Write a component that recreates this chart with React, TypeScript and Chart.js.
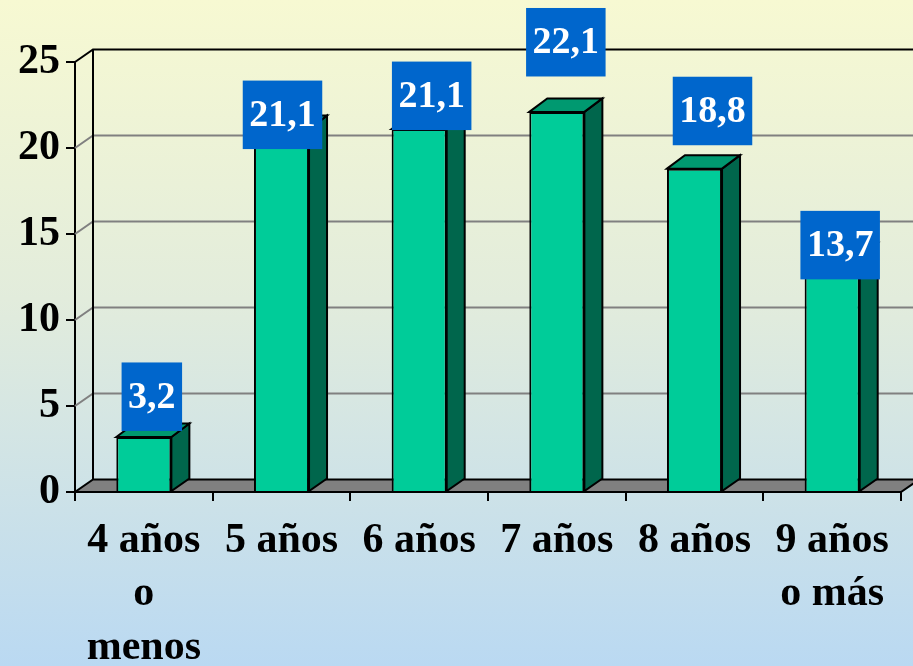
import React, { useEffect, useRef } from "react";
import { Chart, registerables } from "chart.js";

Chart.register(...registerables);

const categories: string[][] = [
  ["4 años", "o", "menos"],
  ["5 años"],
  ["6 años"],
  ["7 años"],
  ["8 años"],
  ["9 años", "o más"],
];
const values: number[] = [3.2, 21.1, 21.1, 22.1, 18.8, 13.7];
const valueLabels: string[] = ["3,2", "21,1", "21,1", "22,1", "18,8", "13,7"];
const yMin = 0;
const yMax = 25;
const yStep = 5;
// label box placement (px): [dx from bar centre, dy of box bottom from bar top]
const labelOffsets: number[][] = [
  [8, -6],
  [1, 20],
  [12.5, 1],
  [9, -35.4],
  [18, -23.4],
  [8, 23],
];

const FONT = '"Liberation Serif", "Times New Roman", serif';
const DX = 18;
const WALL_DY = 12.5;
const BAR_DY = 13.5;

const threeD = {
  id: "threeD",
  beforeDraw(chart: any) {
    const { ctx, width, height } = chart;
    ctx.save();
    const g = ctx.createLinearGradient(0, 0, 0, height);
    g.addColorStop(0, "#F7F9D2");
    g.addColorStop(0.45, "#E2ECDC");
    g.addColorStop(1, "#BAD9F2");
    ctx.fillStyle = g;
    ctx.fillRect(0, 0, width, height);
    ctx.restore();
  },
  beforeDatasetsDraw(chart: any) {
    const { ctx, chartArea, scales, width } = chart;
    const { left, right, top, bottom } = chartArea;
    const y = scales.y;
    ctx.save();
    ctx.lineJoin = "miter";
    // floor
    ctx.beginPath();
    ctx.moveTo(left, bottom);
    ctx.lineTo(right, bottom);
    ctx.lineTo(right + DX, bottom - WALL_DY);
    ctx.lineTo(left + DX, bottom - WALL_DY);
    ctx.closePath();
    ctx.fillStyle = "#808080";
    ctx.fill();
    ctx.lineWidth = 2;
    ctx.strokeStyle = "#000";
    ctx.stroke();
    // gridlines on side + back wall
    for (let v = yMin + yStep; v <= yMax; v += yStep) {
      const py = y.getPixelForValue(v);
      ctx.beginPath();
      ctx.moveTo(left, py);
      ctx.lineTo(left + DX, py - WALL_DY);
      ctx.lineTo(width, py - WALL_DY);
      ctx.strokeStyle = v === yMax ? "#000" : "#808080";
      ctx.lineWidth = 2;
      ctx.stroke();
    }
    // back wall left edge
    ctx.beginPath();
    ctx.moveTo(left + DX, top - WALL_DY);
    ctx.lineTo(left + DX, bottom - WALL_DY);
    ctx.strokeStyle = "#000";
    ctx.lineWidth = 2;
    ctx.stroke();
    ctx.restore();
  },
  afterDatasetsDraw(chart: any) {
    const { ctx } = chart;
    const meta = chart.getDatasetMeta(0);
    ctx.save();
    ctx.lineWidth = 2;
    ctx.strokeStyle = "#000";
    ctx.lineJoin = "miter";
    meta.data.forEach((bar: any) => {
      const { x, y, base, width } = bar.getProps(["x", "y", "base", "width"], true);
      const l = x - width / 2;
      const r = x + width / 2;
      // side
      ctx.beginPath();
      ctx.moveTo(r, y);
      ctx.lineTo(r + DX, y - BAR_DY);
      ctx.lineTo(r + DX, base - WALL_DY);
      ctx.lineTo(r, base);
      ctx.closePath();
      ctx.fillStyle = "#00664C";
      ctx.fill();
      ctx.stroke();
      // top
      ctx.beginPath();
      ctx.moveTo(l, y);
      ctx.lineTo(l + DX, y - BAR_DY);
      ctx.lineTo(r + DX, y - BAR_DY);
      ctx.lineTo(r, y);
      ctx.closePath();
      ctx.fillStyle = "#009970";
      ctx.fill();
      ctx.stroke();
    });
    ctx.restore();
  },
  afterDraw(chart: any) {
    const { ctx } = chart;
    const meta = chart.getDatasetMeta(0);
    ctx.save();
    ctx.font = `bold 38px ${FONT}`;
    ctx.textAlign = "center";
    ctx.textBaseline = "middle";
    meta.data.forEach((bar: any, i: number) => {
      const txt = valueLabels[i];
      const [ox, oy] = labelOffsets[i];
      const cx = bar.x + ox;
      const by = bar.y + oy;
      const tw = ctx.measureText(txt).width;
      const bw = tw + 13;
      const bh = 68.5;
      ctx.fillStyle = "#0066CC";
      ctx.fillRect(cx - bw / 2, by - bh, bw, bh);
      ctx.fillStyle = "#FFFFFF";
      ctx.fillText(txt, cx, by - bh / 2 + 1);
    });
    ctx.restore();
  },
};

export default function App() {
  const ref = useRef<HTMLCanvasElement | null>(null);
  useEffect(() => {
    if (!ref.current) return;
    const chart = new Chart(ref.current, {
      type: "bar",
      data: {
        labels: categories,
        datasets: [
          {
            data: values,
            backgroundColor: "#00CC99",
            borderColor: "#000000",
            borderWidth: 2,
            barPercentage: 0.4,
            categoryPercentage: 1,
          },
        ],
      },
      options: {
        animation: false,
        responsive: false,
        devicePixelRatio: 1,
        layout: { padding: { top: 62, right: 12, left: 0, bottom: 0 } },
        plugins: {
          legend: { display: false },
          tooltip: { enabled: false },
        },
        scales: {
          x: {
            offset: true,
            grid: {
              offset: true,
              drawOnChartArea: false,
              drawTicks: true,
              tickLength: 9,
              color: "#000",
              lineWidth: 2,
            },
            border: { display: true, color: "#000", width: 2 },
            ticks: {
              autoSkip: false,
              maxRotation: 0,
              minRotation: 0,
              padding: 13.5,
              color: "#000",
              font: { family: FONT, size: 42, weight: "bold", lineHeight: 1.27 },
            },
            afterFit: (scale: any) => {
              scale.height = 174;
            },
          },
          y: {
            min: yMin,
            max: yMax,
            ticks: {
              stepSize: yStep,
              padding: 6,
              color: "#000",
              font: { family: FONT, size: 42, weight: "bold" },
            },
            grid: {
              drawOnChartArea: false,
              drawTicks: true,
              tickLength: 9,
              color: "#000",
              lineWidth: 2,
            },
            border: { display: true, color: "#000", width: 2 },
            afterFit: (scale: any) => {
              scale.width = 75;
            },
          },
        },
      },
      plugins: [threeD],
    });
    return () => chart.destroy();
  }, []);
  return (
    <div style={{ position: "fixed", left: 0, top: 0, width: 913, height: 666 }}>
      <canvas ref={ref} width={913} height={666} style={{ display: "block" }} />
    </div>
  );
}
